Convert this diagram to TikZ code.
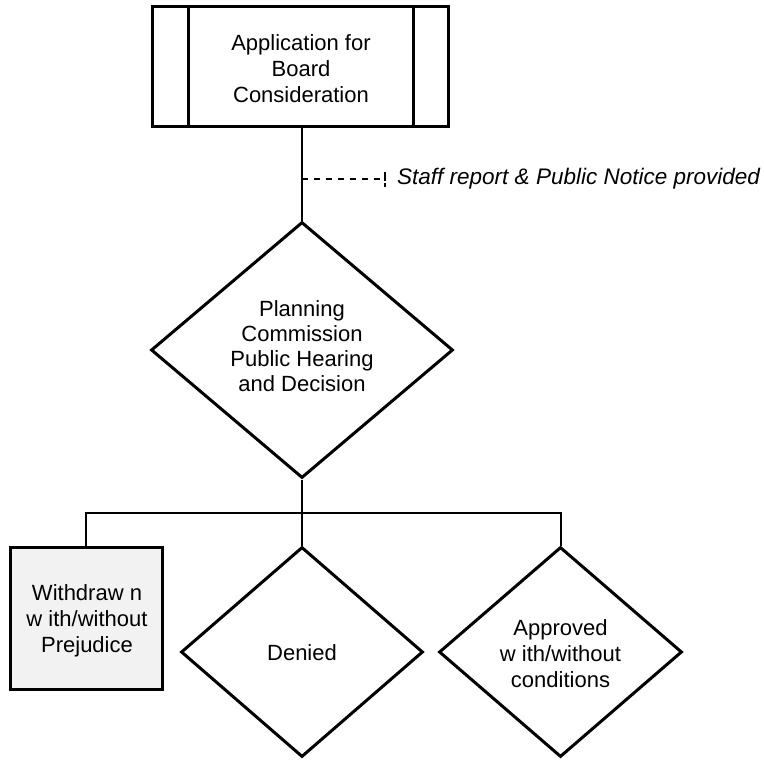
\documentclass[tikz,border=0pt]{standalone}
\usepackage{fontspec}
\setmainfont{Liberation Sans}
\usetikzlibrary{shapes.geometric}
\begin{document}
\begin{tikzpicture}[x=1pt,y=-1pt,
  shapeline/.style={draw=black,line width=3pt},
  conn/.style={draw=black,line width=2pt},
  lbl/.style={align=center,inner sep=0pt,font=\fontsize{22}{26}\selectfont},
  dia/.style={shape=diamond,shapeline,inner sep=0pt,aspect=1,fill=white},
  boxnode/.style={shapeline,rectangle,inner sep=0pt}]
\useasboundingbox (0,0) rectangle (764,760);
% top box
\node[boxnode,minimum width=296,minimum height=120] (app) at (300,67) {};
\draw[shapeline] (188,7) -- (188,127);
\draw[shapeline] (413,7) -- (413,127);
\node[lbl] at (301,69) {Application for\\Board\\Consideration};
% decision diamond
\node[dia,minimum width=302,minimum height=256] (pc) at (302,350) {};
\node[lbl,font=\fontsize{22}{25}\selectfont] at (302,346) {Planning\\Commission\\Public Hearing\\and Decision};
\draw[conn] (app.south -| pc.north) -- (pc.north);
% dashed note
\coordinate (dn) at (302,179);
\coordinate (de) at (385,179);
\draw[conn,line width=1.3pt,dash pattern=on 6pt off 6pt] (dn) -- (de);
\draw[conn,line width=1.3pt] (385,172) -- (385,180.5) (385,183) -- (385,187);
\node[lbl,anchor=west,font=\fontsize{22.5}{26}\selectfont\itshape] (note) at (397,179) {Staff report \& Public Notice provided};
% outcomes
\node[boxnode,fill={rgb,255:red,242;green,242;blue,242},minimum width=152,minimum height=142] (wd) at (86,618) {};
\node[lbl] at (87,621) {Withdraw n\\w ith/without\\Prejudice};
\node[dia,minimum width=242,minimum height=210] (den) at (302,652) {};
\node[lbl] at (302,653) {Denied};
\node[dia,minimum width=243,minimum height=210] (apr) at (560.5,652) {};
\node[lbl] at (560.5,654) {Approved\\w ith/without\\conditions};
% connectors
\coordinate (j) at (302,513);
\draw[conn] (pc.south) -- (j);
\draw[conn] (j) -| (wd.north);
\draw[conn] (j) -| (apr.north);
\draw[conn] (j) -- (den.north);
\end{tikzpicture}
\end{document}
